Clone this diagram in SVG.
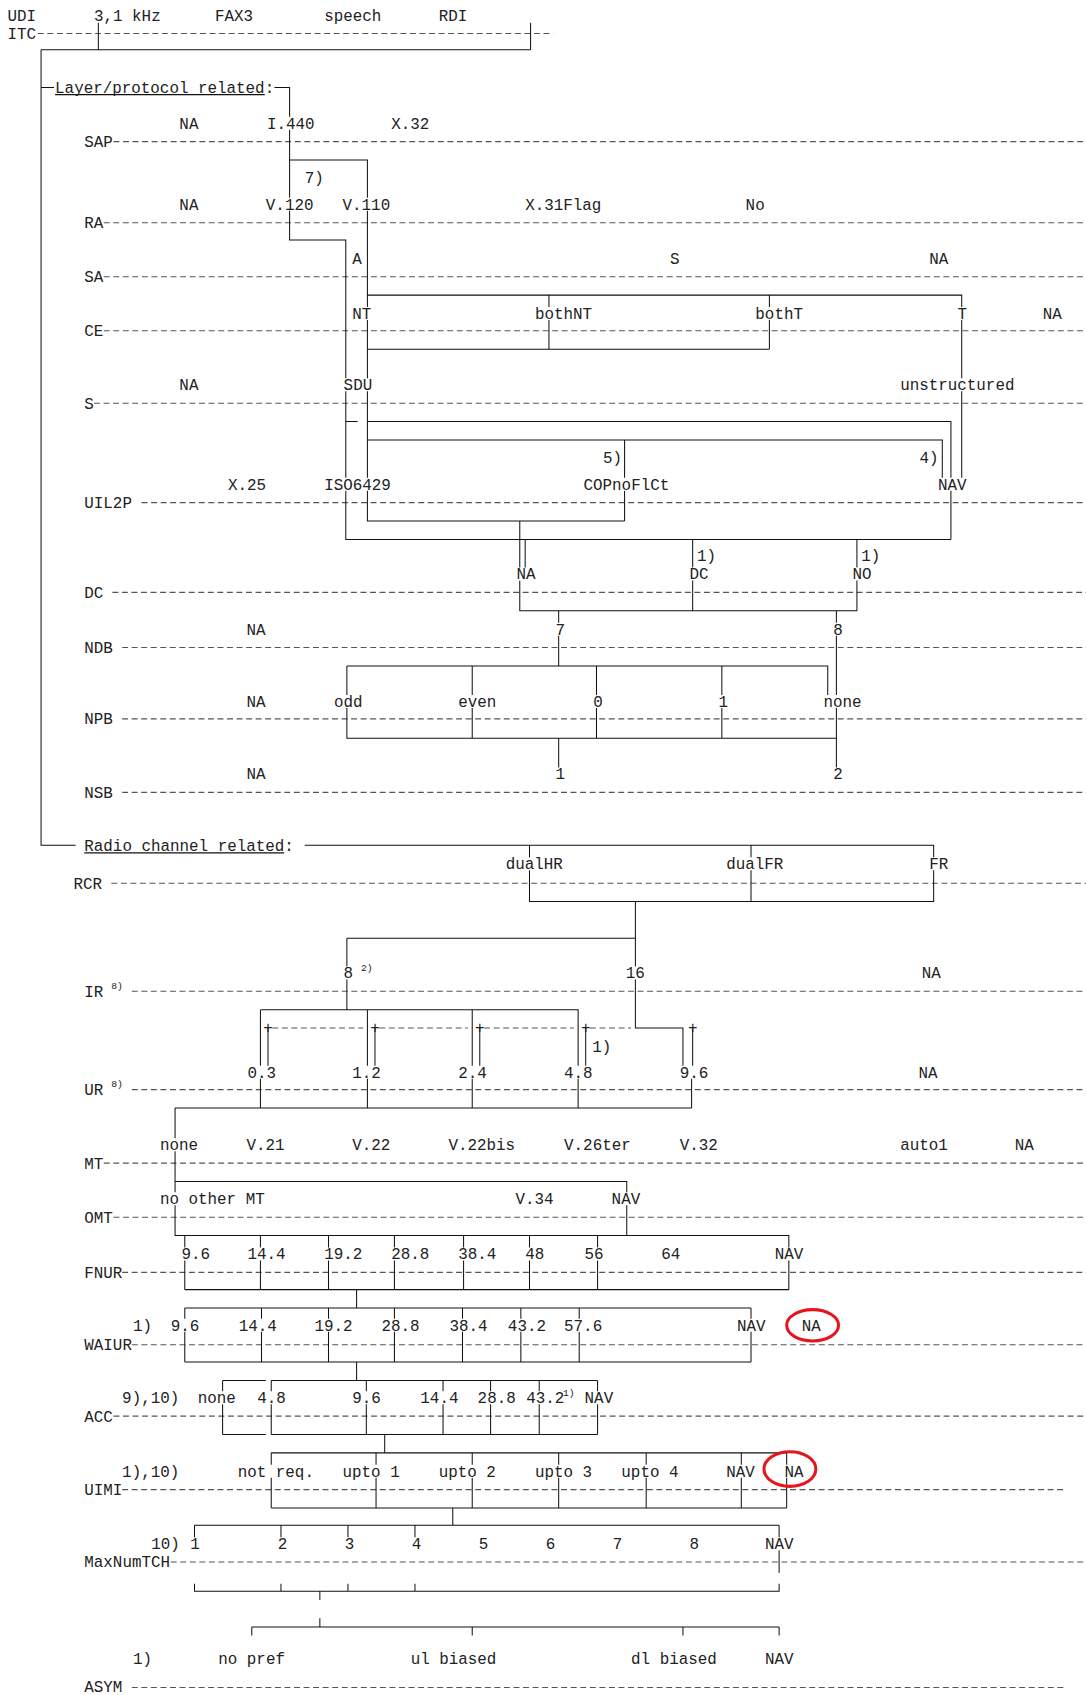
<svg xmlns="http://www.w3.org/2000/svg" width="1086" height="1695" viewBox="0 0 1086 1695">
<style>
text{font-family:"Liberation Mono","DejaVu Sans Mono",monospace;font-size:14.7px;fill:#222}
.sup{font-size:9px}
.m{text-anchor:middle}
.d{stroke:#555;stroke-width:1;stroke-dasharray:5.5 3.33;fill:none}
.c{stroke:#111;stroke-width:0.95;fill:none}
.u{stroke:#111;stroke-width:1}
.hl{fill:none;stroke:#e8141c;stroke-width:2.8}
</style>
<rect width="1086" height="1695" fill="#fff"/>
<g transform="scale(1.0806,1.081)">
<g id="dashed-lines">
<path class="d" d="M35 31H512M105 131H1005M96 206H1005M96 256H1005M96 306H1005M87 373H1005M131 465H1005M104 548H1005M113 599H1005M113 665H1005M113 733H1005M103 817H1005M122 917H1005M252 951H336M351 951H433M448 951H531M546 951H584M122 1008H1005M96 1076H1005M105 1126H1005M113 1177H1005M122 1244H1005M105 1310H1005M113 1378H984M158 1445H1005M122 1561H984"/>
</g>
<g id="connectors">
<path class="c" d="M91 21V46M491 21V46M38 46H491M38 46V782H70M38 81H50M254 81H268V108M268 120V183M268 195V222H320V350M320 362V442M320 454V499H880M880 454V499M268 148H340V183M340 195V284M340 296V350M340 362V442M340 454V482H578M578 407V442M578 454V482M340 273H890V284M890 296V350M890 362V442M508 273V284M508 296V323M712 273V284M712 296V323M340 323H712M320 390H331M340 390H880V442M340 407H872V442M481 482V525M486 499V525M641 499V525M793 499V525M481 537V565H793V537M641 537V565M517 565V576M517 588V616M774 565V576M774 588V643M774 655V710M321 616H766V643M321 616V643M321 655V683H774M437 616V643M437 655V683M552 616V643M552 655V683M668 616V643M668 655V683M517 683V710"/>
<path class="c" d="M282 782H864V793M490 782V793M490 805V834H864V805M695 782V793M695 805V834M588 834V894M588 906V951H632V986M321 868H588M321 868V894M321 906V934M241 934H535V986M241 934V986M340 934V986M437 934V986M248 951V986M347 951V986M444 951V986M542 951V986M641 951V986M241 998V1025M340 998V1025M437 998V1025M535 998V1025M640 998V1025M162 1025H640M162 1025V1053M162 1065V1103M162 1093H580V1103M162 1115V1143H730V1154M580 1115V1143"/>
<path class="c" d="M171 1143V1154M241 1143V1154M304 1143V1154M365 1143V1154M429 1143V1154M490 1143V1154M553 1143V1154M171 1166V1193M241 1166V1193M304 1166V1193M365 1166V1193M429 1166V1193M490 1166V1193M553 1166V1193M730 1166V1193M171 1193H730M330 1193V1210M171 1210H695M171 1210V1220M242 1210V1220M304 1210V1220M365 1210V1220M428 1210V1220M482 1210V1220M536 1210V1220M695 1210V1220M171 1232V1260M242 1232V1260M304 1232V1260M365 1232V1260M428 1232V1260M482 1232V1260M536 1232V1260M695 1232V1260M171 1260H695M330 1260V1277"/>
<path class="c" d="M206 1277H246M251 1277H553M206 1277V1287M251 1277V1287M339 1277V1287M410 1277V1287M454 1277V1287M499 1277V1287M553 1277V1287M206 1299V1327M251 1299V1327M339 1299V1327M410 1299V1327M454 1299V1327M499 1299V1327M553 1299V1327M206 1327H246M251 1327H553M356 1327V1344M251 1344H728M251 1344V1355M348 1344V1355M437 1344V1355M517 1344V1355M598 1344V1355M686 1344V1355M728 1344V1355M251 1367V1395M348 1367V1395M437 1367V1395M517 1367V1395M598 1367V1395M686 1367V1395M728 1367V1395M251 1395H728M419 1395V1411M180 1411H721M180 1411V1422M260 1411V1422M322 1411V1422M384 1411V1422M721 1411V1422M721 1434V1455M180 1465V1472H721V1465M260 1465V1472M322 1465V1472M384 1465V1472M296 1472V1480M296 1497V1505M233 1505H721M233 1505V1513M437 1505V1513M632 1505V1513M721 1505V1513"/>
<line class="u" x1="51" y1="87.5" x2="245" y2="87.5"/>
<line class="u" x1="78" y1="789" x2="263" y2="789"/>
</g>
<g id="row-ITC"><text x="7" y="19">UDI</text><text x="87" y="19">3,1 kHz</text><text x="199" y="19">FAX3</text><text x="300" y="19">speech</text><text x="406" y="19">RDI</text><text x="7" y="36">ITC</text></g>
<g id="layer-protocol"><text x="51" y="86">Layer/protocol related:</text></g>
<g id="row-SAP"><text x="166" y="119">NA</text><text x="247" y="119">I.440</text><text x="362" y="119">X.32</text><text x="78" y="136">SAP</text><text x="282" y="169">7)</text></g>
<g id="row-RA"><text x="166" y="194">NA</text><text x="246" y="194">V.120</text><text x="317" y="194">V.110</text><text x="486" y="194">X.31Flag</text><text x="690" y="194">No</text><text x="78" y="211">RA</text></g>
<g id="row-SA"><text x="326" y="244">A</text><text x="620" y="244">S</text><text x="860" y="244">NA</text><text x="78" y="261">SA</text></g>
<g id="row-CE"><text x="326" y="295">NT</text><text x="495" y="295">bothNT</text><text x="699" y="295">bothT</text><text x="886" y="295">T</text><text x="965" y="295">NA</text><text x="78" y="311">CE</text></g>
<g id="row-S"><text x="166" y="361">NA</text><text x="318" y="361">SDU</text><text x="833" y="361">unstructured</text><text x="78" y="378">S</text><text x="558" y="428">5)</text><text x="851" y="428">4)</text></g>
<g id="row-UIL2P"><text x="211" y="453">X.25</text><text x="300" y="453">ISO6429</text><text x="540" y="453">COPnoFlCt</text><text x="868" y="453">NAV</text><text x="78" y="470">UIL2P</text><text x="645" y="519">1)</text><text x="797" y="519">1)</text></g>
<g id="row-DC"><text x="478" y="536">NA</text><text x="638" y="536">DC</text><text x="789" y="536">NO</text><text x="78" y="553">DC</text></g>
<g id="row-NDB"><text x="228" y="587">NA</text><text x="514" y="587">7</text><text x="771" y="587">8</text><text x="78" y="604">NDB</text></g>
<g id="row-NPB"><text x="228" y="654">NA</text><text x="309" y="654">odd</text><text x="424" y="654">even</text><text x="549" y="654">0</text><text x="665" y="654">1</text><text x="762" y="654">none</text><text x="78" y="670">NPB</text></g>
<g id="row-NSB"><text x="228" y="721">NA</text><text x="514" y="721">1</text><text x="771" y="721">2</text><text x="78" y="738">NSB</text></g>
<g id="radio-channel"><text x="78" y="787">Radio channel related:</text></g>
<g id="row-RCR"><text x="468" y="804">dualHR</text><text x="672" y="804">dualFR</text><text x="860" y="804">FR</text><text x="68" y="822">RCR</text></g>
<g id="row-IR"><text x="318" y="905">8</text><text class="sup" x="334" y="898">2)</text><text x="579" y="905">16</text><text x="853" y="905">NA</text><text x="78" y="922">IR</text><text class="sup" x="103" y="915">8)</text></g>
<g id="row-plus"><text class="m" x="248" y="956">+</text><text class="m" x="347" y="956">+</text><text class="m" x="444" y="956">+</text><text class="m" x="542" y="956">+</text><text class="m" x="641" y="956">+</text><text x="548" y="973">1)</text></g>
<g id="row-UR"><text x="229" y="997">0.3</text><text x="326" y="997">1.2</text><text x="424" y="997">2.4</text><text x="522" y="997">4.8</text><text x="629" y="997">9.6</text><text x="850" y="997">NA</text><text x="78" y="1013">UR</text><text class="sup" x="103" y="1006">8)</text></g>
<g id="row-MT"><text x="148" y="1064">none</text><text x="228" y="1064">V.21</text><text x="326" y="1064">V.22</text><text x="415" y="1064">V.22bis</text><text x="522" y="1064">V.26ter</text><text x="629" y="1064">V.32</text><text x="833" y="1064">auto1</text><text x="939" y="1064">NA</text><text x="78" y="1081">MT</text></g>
<g id="row-OMT"><text x="148" y="1114">no other MT</text><text x="477" y="1114">V.34</text><text x="566" y="1114">NAV</text><text x="78" y="1131">OMT</text></g>
<g id="row-FNUR"><text x="168" y="1165">9.6</text><text x="229" y="1165">14.4</text><text x="300" y="1165">19.2</text><text x="362" y="1165">28.8</text><text x="424" y="1165">38.4</text><text x="486" y="1165">48</text><text x="541" y="1165">56</text><text x="612" y="1165">64</text><text x="717" y="1165">NAV</text><text x="78" y="1182">FNUR</text></g>
<g id="row-WAIUR"><text x="123" y="1231">1)</text><text x="158" y="1231">9.6</text><text x="221" y="1231">14.4</text><text x="291" y="1231">19.2</text><text x="353" y="1231">28.8</text><text x="416" y="1231">38.4</text><text x="470" y="1231">43.2</text><text x="522" y="1231">57.6</text><text x="682" y="1231">NAV</text><text x="742" y="1231">NA</text><ellipse class="hl" cx="752" cy="1226" rx="24" ry="14.5"/><text x="78" y="1249">WAIUR</text></g>
<g id="row-ACC"><text x="113" y="1298">9),10)</text><text x="183" y="1298">none</text><text x="238" y="1298">4.8</text><text x="326" y="1298">9.6</text><text x="389" y="1298">14.4</text><text x="442" y="1298">28.8</text><text x="487" y="1298">43.2</text><text class="sup" x="521" y="1291">1)</text><text x="541" y="1298">NAV</text><text x="78" y="1315">ACC</text></g>
<g id="row-UIMI"><text x="113" y="1366">1),10)</text><text x="220" y="1366">not req.</text><text x="317" y="1366">upto 1</text><text x="406" y="1366">upto 2</text><text x="495" y="1366">upto 3</text><text x="575" y="1366">upto 4</text><text x="672" y="1366">NAV</text><text x="726" y="1366">NA</text><ellipse class="hl" cx="731" cy="1359" rx="24" ry="16"/><text x="78" y="1383">UIMI</text></g>
<g id="row-MaxNumTCH"><text x="140" y="1433">10)</text><text x="176" y="1433">1</text><text x="257" y="1433">2</text><text x="319" y="1433">3</text><text x="381" y="1433">4</text><text x="443" y="1433">5</text><text x="505" y="1433">6</text><text x="567" y="1433">7</text><text x="638" y="1433">8</text><text x="708" y="1433">NAV</text><text x="78" y="1450">MaxNumTCH</text></g>
<g id="row-ASYM"><text x="123" y="1539">1)</text><text x="202" y="1539">no pref</text><text x="380" y="1539">ul biased</text><text x="584" y="1539">dl biased</text><text x="708" y="1539">NAV</text><text x="78" y="1565">ASYM</text></g>
</g>
</svg>
